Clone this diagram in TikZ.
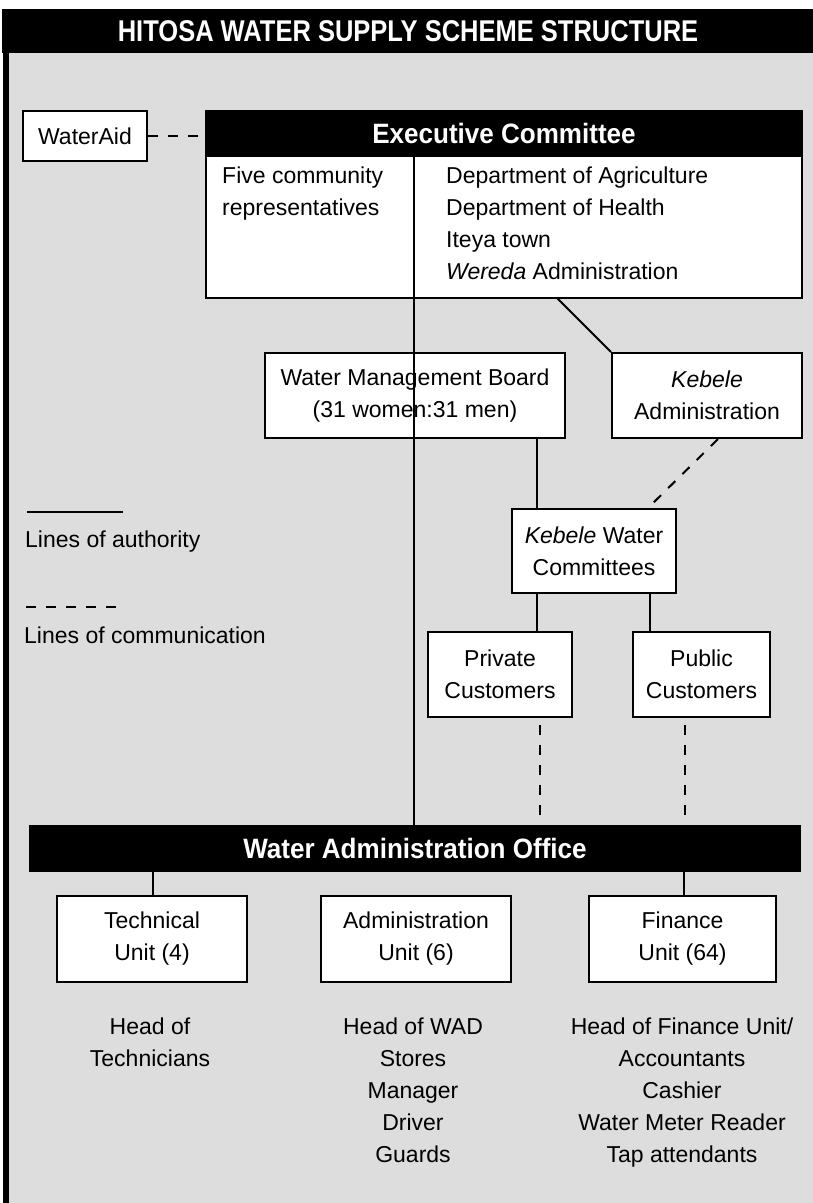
\documentclass[tikz,border=0pt]{standalone}
\usepackage{fontspec}
\setmainfont{Liberation Sans}
\newfontfamily\headfont{Liberation Sans}[FakeStretch=0.93]
\newfontfamily\titlefont{Liberation Sans}[FakeStretch=0.85]
\usepackage{tikz}
\usetikzlibrary{positioning}
\definecolor{panel}{RGB}{221,221,221}

\begin{document}
\begin{tikzpicture}
    [
      x=1pt, y=-1pt,
      every node/.style={font=\fontsize{23}{32}\selectfont},
      unit/.style={draw=black,fill=white,line width=2pt,align=center,inner sep=0pt},
      banner/.style={draw=black,fill=black,text=white,line width=2pt,inner sep=0pt,
        font=\headfont\bfseries\fontsize{28}{32}\selectfont},
      listing/.style={align=center,anchor=north,inner sep=0pt},
      authority/.style={line width=2pt},
      comm/.style={line width=2pt,dash pattern=on 10pt off 10pt},
    ]

    \useasboundingbox (0,0) rectangle (813,1203);
    \fill [panel] (9,52) rectangle (813,1203);
    \fill [black] (3,10) rectangle (9,1203);

    \node (title) [banner, minimum width=810pt, minimum height=42pt,
      font=\titlefont\bfseries\fontsize{30}{32}\selectfont] at (408,31) {HITOSA WATER SUPPLY SCHEME STRUCTURE};

    % legend
    \coordinate (key-solid) at (27,512);
    \coordinate (key-dashed) at (26,607);
    \draw [authority] (key-solid) -- ++(96,0);
    \node (key-solid-label) [anchor=north west, inner sep=0pt] at (25,531) {Lines of authority};
    \draw [comm] (key-dashed) -- ++(96,0);
    \node (key-dashed-label) [anchor=north west, inner sep=0pt] at (24,627) {Lines of communication};

    \node (wateraid) [unit, minimum width=124pt, minimum height=50pt] at (85,136) {WaterAid};
    \node (exec-body) [unit, minimum width=596pt, minimum height=142pt] at (504,227) {};
    \node (exec-head) [banner, minimum width=596pt, minimum height=45pt] at (504,133.5) {Executive Committee};
    \node (members) [anchor=north west, align=left, inner sep=0pt] at (222,167) {Five community\\representatives};
    \node (bodies) [anchor=north west, align=left, inner sep=0pt] at (446,167) {Department of Agriculture\\Department of Health\\Iteya town\\\textit{Wereda} Administration};

    \node (wmb) [unit, minimum width=300pt, minimum height=85pt] at (415,395.5) {Water Management Board\\(31 women:31 men)};
    \node (kebele-admin) [unit, minimum width=190pt, minimum height=85pt] at (707,395.5) {\textit{Kebele}\\Administration};
    \node (kwc) [unit, minimum width=164pt, minimum height=84pt] at (594,551) {\textit{Kebele} Water\\Committees};
    \node (private) [unit, minimum width=144pt, minimum height=85pt] at (500,674.5) {Private\\Customers};
    \node (public) [unit, minimum width=137pt, minimum height=85pt] at (701.5,674.5) {Public\\Customers};

    \node (wao) [banner, minimum width=770pt, minimum height=45pt] at (415,848.5) {Water Administration Office};
    \node (technical) [unit, minimum width=190pt, minimum height=86pt] at (152,939) {Technical\\Unit (4)};
    \node (admin-unit) [unit, minimum width=190pt, minimum height=86pt] at (416,939) {Administration\\Unit (6)};
    \node (finance) [unit, minimum width=187pt, minimum height=86pt] at (682.5,939) {Finance\\Unit (64)};

    \node (technical-staff) [listing] at (150,1018) {Head of\\Technicians};
    \node (admin-staff) [listing] at (413,1018) {Head of WAD\\Stores\\Manager\\Driver\\Guards};
    \node (finance-staff) [listing] at (682,1018) {Head of Finance Unit/\\Accountants\\Cashier\\Water Meter Reader\\Tap attendants};

    % drop points
    \coordinate (spine) at (414,0);
    \coordinate (board-drop) at (537,0);
    \coordinate (public-feed) at (650,0);
    \coordinate (kebele-link) at (718,0);
    \coordinate (kwc-link) at (648,0);
    \coordinate (private-drop) at (540,0);
    \coordinate (public-drop) at (685,0);
    \coordinate (technical-drop) at (153,0);
    \coordinate (finance-drop) at (684,0);
    \coordinate (kebele-fork) at (557,298);

    \draw [comm] (wateraid.east) -- (exec-head.west |- wateraid.east);
    \draw [authority] (exec-head.south -| spine) -- (wao.north -| spine);
    \draw [authority] (kebele-fork) -- (kebele-admin.north west);
    \draw [authority] (wmb.south -| board-drop) -- (kwc.north -| board-drop);
    \draw [comm] (kebele-admin.south -| kebele-link) -- (kwc.north -| kwc-link);
    \draw [authority] (kwc.south -| board-drop) -- (private.north -| board-drop);
    \draw [authority] (kwc.south -| public-feed) -- (public.north -| public-feed);
    \draw [comm, dash phase=13pt] (private.south -| private-drop) -- (wao.north -| private-drop);
    \draw [comm, dash phase=13pt] (public.south -| public-drop) -- (wao.north -| public-drop);
    \draw [authority] (wao.south -| technical-drop) -- (technical.north -| technical-drop);
    \draw [authority] (wao.south -| finance-drop) -- (finance.north -| finance-drop);

\end{tikzpicture}
\end{document}
